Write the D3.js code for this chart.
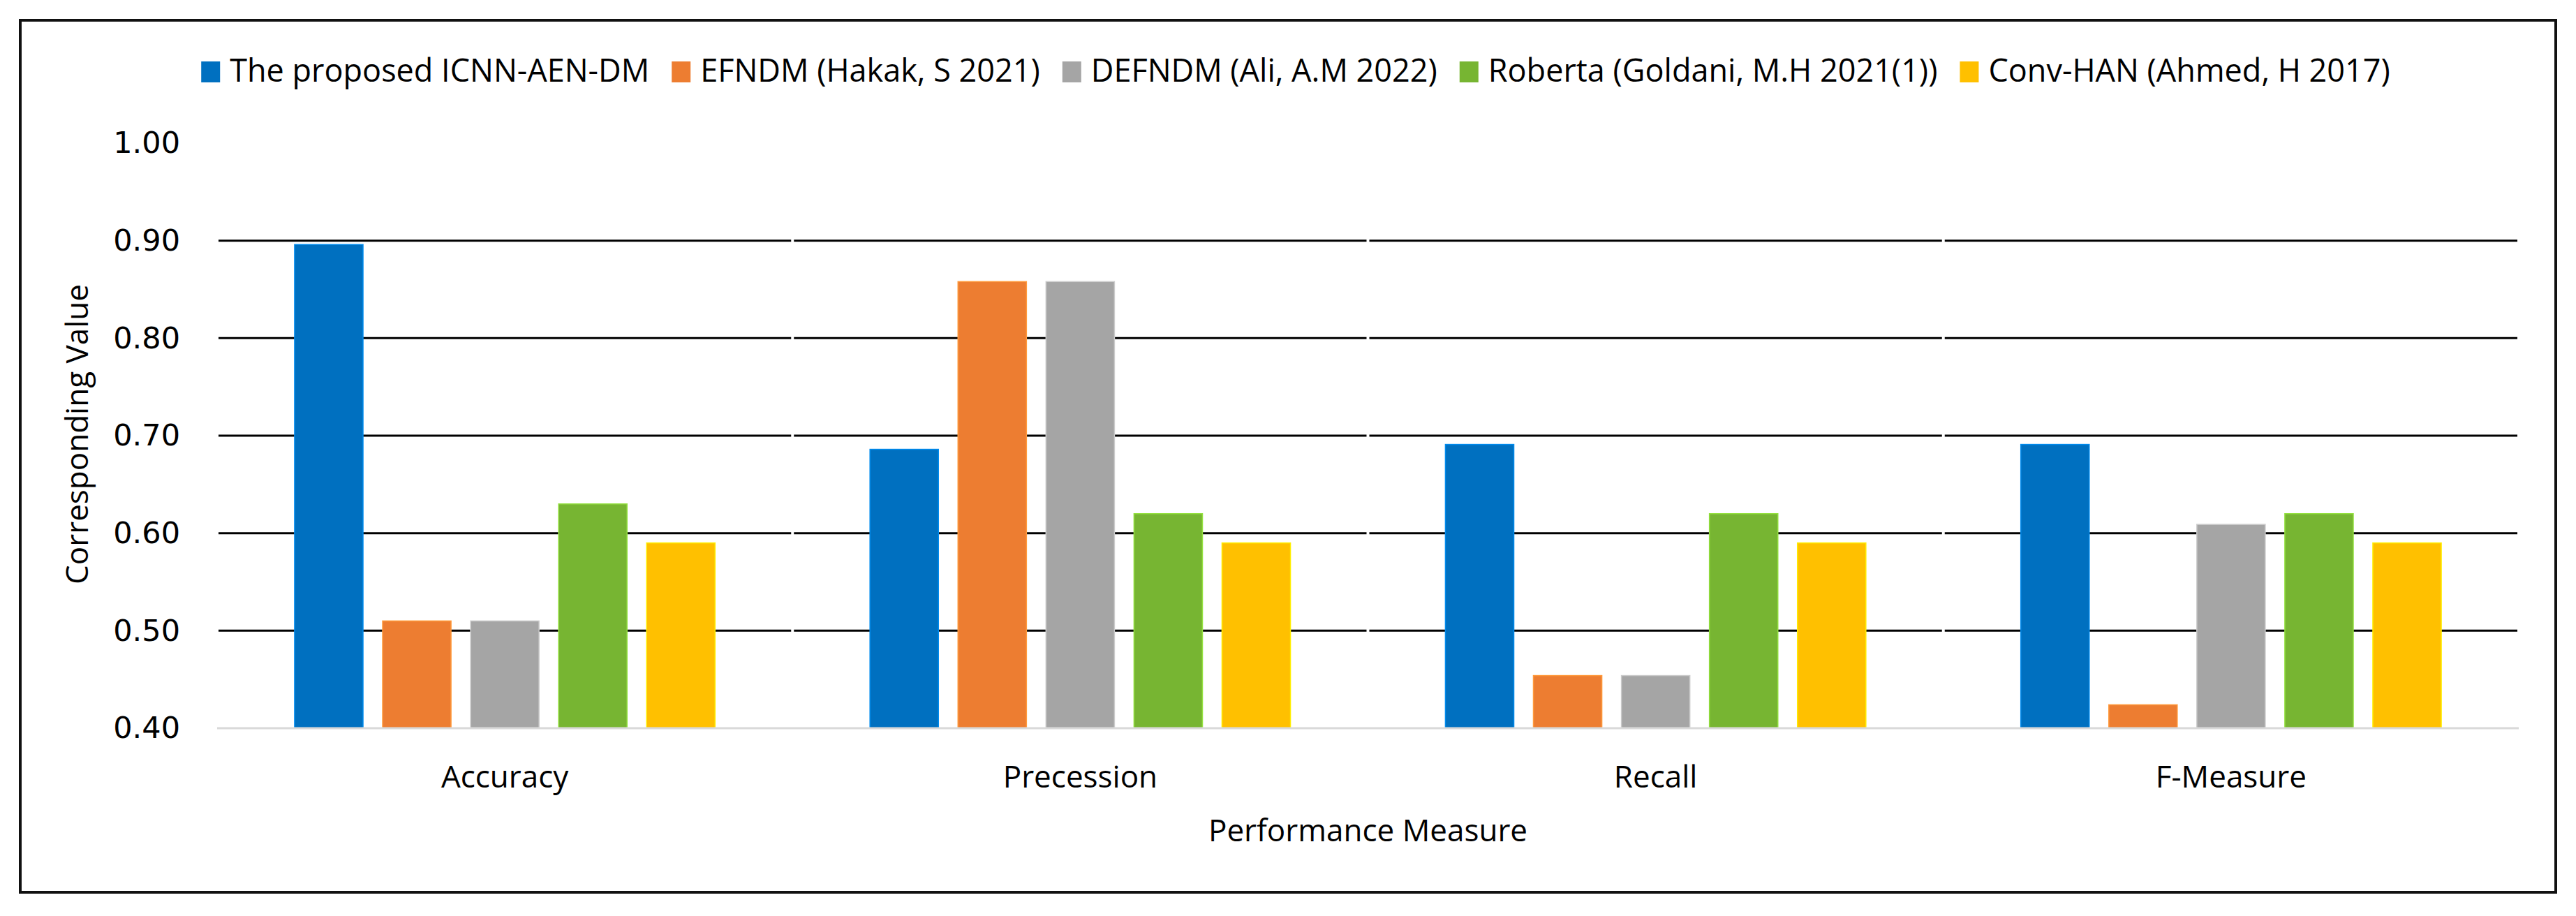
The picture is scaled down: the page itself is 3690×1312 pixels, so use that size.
<!DOCTYPE html>
<html>
<head>
<meta charset="utf-8">
<script src="https://cdn.jsdelivr.net/npm/d3@7"></script>
<style>
  body { margin: 0; background: #fff; }
  text { font-family: "Open Sans", "Noto Sans", sans-serif; fill: #000; }
</style>
</head>
<body>
<div id="chart"></div>
<script>
// chart data
const categories = ["Accuracy", "Precession", "Recall", "F-Measure"];
const seriesNames = [
  "The proposed ICNN-AEN-DM",
  "EFNDM (Hakak, S 2021)",
  "DEFNDM (Ali, A.M 2022)",
  "Roberta (Goldani, M.H 2021(1))",
  "Conv-HAN (Ahmed, H 2017)"
];
const proposed = [0.896, 0.686, 0.691, 0.691];
const efndm    = [0.510, 0.858, 0.454, 0.424];
const defndm   = [0.510, 0.858, 0.454, 0.609];
const roberta  = [0.630, 0.620, 0.620, 0.620];
const convHan  = [0.590, 0.590, 0.590, 0.590];
const yTicks = [0.4, 0.5, 0.6, 0.7, 0.8, 0.9, 1.0];
const colors = ["#0070c0", "#ed7d31", "#a5a5a5", "#77b532", "#ffc000"];

const allSeries = [proposed, efndm, defndm, roberta, convHan];
const rows = [];
categories.forEach((c, i) => {
  allSeries.forEach((s, j) => rows.push({cat: c, series: seriesNames[j], value: s[i]}));
});

const width = 3690;
const height = 1312;
const plot = {left: 311, right: 3608, top: 205, bottom: 1043};

const svg = d3.select("#chart")
  .append("svg")
  .attr("width", width)
  .attr("height", height);

svg.append("rect")
  .attr("width", width).attr("height", height).attr("fill", "#fff");

// outer frame
svg.append("rect")
  .attr("x", 29).attr("y", 29)
  .attr("width", 3632).attr("height", 1249)
  .attr("fill", "none")
  .attr("stroke", "#111")
  .attr("stroke-width", 4);

const x0 = d3.scaleBand()
  .domain(categories)
  .range([plot.left, plot.right]);

const x1 = d3.scaleBand()
  .domain(seriesNames)
  .range([0, x0.bandwidth()])
  .paddingInner(0.222)
  .paddingOuter(0.88);

const y = d3.scaleLinear()
  .domain([0.4, 1.0])
  .range([plot.bottom, plot.top]);

const color = d3.scaleOrdinal().domain(seriesNames).range(colors);

// gridlines, one segment per category with a small break between them
const gridData = [];
yTicks.filter(t => t > 0.4 && t < 1.0).forEach(t => {
  categories.forEach(c => gridData.push({t, c}));
});
svg.append("g")
  .selectAll("line")
  .data(gridData)
  .enter()
  .append("line")
  .attr("x1", d => x0(d.c) + 2)
  .attr("x2", d => x0(d.c) + x0.bandwidth() - 2)
  .attr("y1", d => y(d.t))
  .attr("y2", d => y(d.t))
  .attr("stroke", "#000")
  .attr("stroke-width", 3);

// bars
svg.append("g")
  .selectAll("rect")
  .data(rows)
  .enter()
  .append("rect")
  .attr("x", d => x0(d.cat) + x1(d.series))
  .attr("y", d => y(d.value))
  .attr("width", x1.bandwidth())
  .attr("height", d => y(0.4) - y(d.value))
  .attr("fill", d => color(d.series))
  .attr("stroke", d => d3.color(color(d.series)).brighter(0.6))
  .attr("stroke-width", 1.5);

// baseline
svg.append("line")
  .attr("x1", plot.left).attr("x2", plot.right)
  .attr("y1", y(0.4)).attr("y2", y(0.4))
  .attr("stroke", "#d9d9d9")
  .attr("stroke-width", 3);

// y axis
const yAxis = svg.append("g")
  .attr("transform", `translate(${plot.left},0)`)
  .call(d3.axisLeft(y).tickValues(yTicks).tickFormat(d3.format(".2f")).tickSize(0).tickPadding(53));
yAxis.select(".domain").remove();
yAxis.selectAll("text")
  .style("font-family", "'DejaVu Sans', sans-serif")
  .style("font-size", "43px")
  .attr("fill", "#222");

// x axis
const xAxis = svg.append("g")
  .attr("transform", `translate(0,${plot.bottom})`)
  .call(d3.axisBottom(x0).tickSize(0).tickPadding(54));
xAxis.select(".domain").remove();
xAxis.selectAll("text")
  .style("font-family", "'Open Sans', sans-serif")
  .style("font-size", "44px")
  .attr("fill", "#111");

// axis titles
svg.append("text")
  .attr("x", (plot.left + plot.right) / 2)
  .attr("y", 1205)
  .attr("text-anchor", "middle")
  .style("font-size", "44px")
  .text("Performance Measure");

svg.append("text")
  .attr("transform", "translate(126,622) rotate(-90)")
  .attr("text-anchor", "middle")
  .style("font-size", "44px")
  .text("Corresponding Value");

// legend
const legend = svg.append("g");
const items = legend.selectAll("g")
  .data(seriesNames)
  .enter()
  .append("g");
items.append("rect")
  .attr("width", 27).attr("height", 30)
  .attr("y", 88)
  .attr("fill", d => color(d));
items.append("text")
  .attr("x", 41)
  .attr("y", 117)
  .style("font-size", "45px")
  .text(d => d);

const widths = [];
items.each(function () {
  widths.push(41 + d3.select(this).select("text").node().getComputedTextLength());
});
const gap = 32;
const total = d3.sum(widths) + gap * (widths.length - 1);
const start = 1856 - total / 2;
let offset = 0;
items.attr("transform", (d, i) => {
  const tx = start + offset;
  offset += widths[i] + gap;
  return `translate(${tx},0)`;
});
</script>
</body>
</html>
